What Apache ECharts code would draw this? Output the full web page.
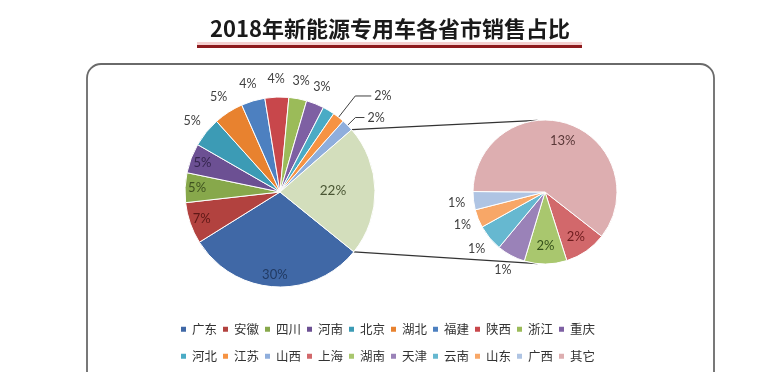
<!DOCTYPE html>
<html><head><meta charset="utf-8">
<script src="https://cdn.jsdelivr.net/npm/echarts@6/dist/echarts.min.js"></script>
<style>html,body{margin:0;padding:0;background:#fff}#c{width:780px;height:372px}</style>
</head><body><div id="c"></div>
<script>
// ---- data ----
const titleText = '2018年新能源专用车各省市销售占比';
const mainNames = ['广东','安徽','四川','河南','北京','湖北','福建','陕西','浙江','重庆','河北','江苏','山西'];
const mainValues = [30, 7, 5, 5, 5, 5, 4, 4, 3, 3, 2, 2, 2];
const compositeName = '其它合计';
const compositeValue = 22;
const subNames = ['上海','湖南','天津','云南','山东','广西','其它'];
const subValues = [2.1, 2.1, 1.4, 1.3, 0.9, 0.9, 13.3];
const legendRow1 = ['广东','安徽','四川','河南','北京','湖北','福建','陕西','浙江','重庆'];
const legendRow2 = ['河北','江苏','山西','上海','湖南','天津','云南','山东','广西','其它'];

// ---- styles ----
const mainColors = ['#4068A6','#B2423F','#87A84B','#6C5093','#3C9BB5','#E8822F','#4D80C0','#C8474B','#9BBB59','#7E60A3','#4AABC5','#F69343','#8FAEDC'];
const compositeColor = '#D3DEBC';
const subColors = ['#D2686B','#A9C76E','#9A82B8','#66B8D0','#F8A767','#AFC4E3','#DDAEB0'];
const colorMap = {};
mainNames.forEach((n,i)=>colorMap[n]=mainColors[i]);
subNames.forEach((n,i)=>colorMap[n]=subColors[i]);

const mainInner = {'广东':'#213A63','安徽':'#5E1816','四川':'#3F5220','河南':'#35264F'};
const mainOuter = ['北京','湖北','福建','陕西','浙江','重庆','河北'];
const mainLeader = {'江苏':[27,16],'山西':[11,9]};
const subInner = {'上海':'#6E1C1E','湖南':'#35501A','其它':'#5A3838'};
const subOuter = ['天津','云南','山东','广西'];

const MC = [280, 192], MR = 95, MSTART = -39;
const SC = [545, 192], SR = 72, SSTART = -38;
const FONT = 'Lato, "Noto Sans CJK SC", sans-serif';
const fmt = p => Math.round(p.value) + '%';
const hidden = {show:false};
const transparent = {color:'rgba(0,0,0,0)', borderWidth:0};

function overlay(center, radius, start, names, values, extra, labelFn) {
  const data = names.map((n,i)=>({name:n, value:values[i], label: labelFn(n) || hidden}));
  extra.forEach(e=>data.push({name:e.name, value:e.value, label: labelFn(e.name) || hidden}));
  return {
    type:'pie', center:center, radius:radius, startAngle:start, clockwise:true,
    silent:true, legendHoverLink:false, avoidLabelOverlap:false,
    emphasis:{disabled:true}, itemStyle:transparent,
    labelLine:{show:false},
    label:{show:false, position:'inside', formatter:fmt, fontFamily:FONT, fontSize:12.5, color:'#404040'},
    data:data
  };
}

const mainSlices = mainNames.map((n,i)=>{
  const item = {name:n, value:mainValues[i], itemStyle:{color:mainColors[i]}};
  if (mainLeader[n]) {
    item.label = {show:true, position:'outside'};
    item.labelLine = {show:true, length:mainLeader[n][0], length2:mainLeader[n][1]};
  }
  return item;
});
mainSlices.push({name:compositeName, value:compositeValue, itemStyle:{color:compositeColor}});

const subSlices = subNames.map((n,i)=>({name:n, value:subValues[i], itemStyle:{color:subColors[i]}}));

// connectors computed from data
const mainTotal = mainValues.reduce((a,b)=>a+b,0) + compositeValue;
const mainSum = mainValues.reduce((a,b)=>a+b,0);
const upperA = (MSTART - mainSum/mainTotal*360) * Math.PI/180;
const lowerA = (MSTART - 360) * Math.PI/180;
const pt = (c,r,a)=>[c[0]+r*Math.cos(a), c[1]-r*Math.sin(a)];
const mUp = pt(MC, MR, upperA), mLo = pt(MC, MR, lowerA);
const sUp = pt(SC, SR, 96*Math.PI/180), sLo = pt(SC, SR, -96*Math.PI/180);

const legendBase = {left:179, padding:0, icon:'rect', itemWidth:7, itemHeight:7, itemGap:4, selectedMode:false,
  textStyle:{fontFamily:'"Noto Sans CJK SC", sans-serif', fontSize:12.5, color:'#333'}};

const chart = echarts.init(document.getElementById('c'), null, {renderer:'canvas'});
chart.setOption({
  animation:false,
  backgroundColor:'#fff',
  title:{text:titleText, left:'center', top:18, padding:0,
    textStyle:{fontFamily:'"Noto Sans CJK SC", sans-serif', fontWeight:'bold', fontSize:22, color:'#1a1a1a'}},
  legend:[
    Object.assign({}, legendBase, {top:323, data:legendRow1.map(n=>({name:n, itemStyle:{color:colorMap[n]}}))}),
    Object.assign({}, legendBase, {top:350, data:legendRow2.map(n=>({name:n, itemStyle:{color:colorMap[n]}}))})
  ],
  graphic:[
    {type:'rect', z:-10, shape:{x:87, y:64, width:627, height:340, r:14}, style:{fill:'none', stroke:'#6a6a6a', lineWidth:1.8}},
    {type:'rect', shape:{x:197, y:42, width:385, height:3}, style:{fill:'rgba(225,120,120,0.35)'}},
    {type:'rect', shape:{x:197, y:45, width:385, height:3}, style:{fill:'#8E1B1E'}},
    {type:'line', shape:{x1:mUp[0], y1:mUp[1], x2:sUp[0], y2:sUp[1]}, style:{stroke:'#333', lineWidth:1.2}},
    {type:'line', shape:{x1:mLo[0], y1:mLo[1], x2:sLo[0], y2:sLo[1]}, style:{stroke:'#333', lineWidth:1.2}}
  ],
  series:[
    {type:'pie', center:MC, radius:[0,MR], startAngle:MSTART, clockwise:true, avoidLabelOverlap:false,
     silent:true, emphasis:{disabled:true},
     itemStyle:{borderColor:'#fff', borderWidth:1},
     label:{show:false, formatter:fmt, fontFamily:FONT, fontSize:12.5, color:'#404040', distanceToLabelLine:3},
     labelLine:{show:false, lineStyle:{color:'#404040', width:1}},
     data:mainSlices},
    overlay(MC, [65,MR], MSTART, mainNames, mainValues, [{name:compositeName, value:compositeValue}],
      n=> mainInner[n] ? {show:true, color:mainInner[n], fontSize:13} : null),
    overlay(MC, [0,100], MSTART, mainNames, mainValues, [{name:compositeName, value:compositeValue}],
      n=> n===compositeName ? {show:true, color:'#4A5634', fontSize:13.5} : null),
    overlay(MC, [MR,125], MSTART, mainNames, mainValues, [{name:compositeName, value:compositeValue}],
      n=> mainOuter.indexOf(n)>=0 ? {show:true} : null),
    {type:'pie', center:SC, radius:[0,SR], startAngle:SSTART, clockwise:true, avoidLabelOverlap:false,
     silent:true, emphasis:{disabled:true},
     itemStyle:{borderColor:'#fff', borderWidth:1},
     label:{show:false}, labelLine:{show:false},
     data:subSlices},
    overlay(SC, [30,SR], SSTART, subNames, subValues, [],
      n=> subInner[n] ? {show:true, color:subInner[n], fontSize:13} : null),
    overlay(SC, [SR,100], SSTART, subNames, subValues, [],
      n=> subOuter.indexOf(n)>=0 ? {show:true} : null)
  ]
});
</script></body></html>
